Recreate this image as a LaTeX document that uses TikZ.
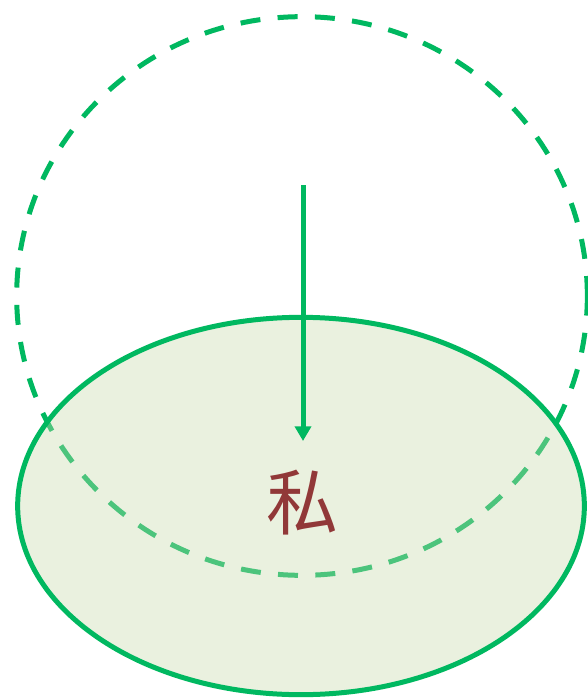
\documentclass[tikz,border=0pt]{standalone}
\usepackage{fontspec}
\usepackage{xcolor}
\usepackage{tikz}
\usetikzlibrary{shapes.geometric, arrows.meta, positioning}
\newfontfamily\cjkfonte{Noto Sans CJK SC}
\definecolor{meuverde}{RGB}{0, 184, 96}
\definecolor{meufundo}{RGB}{200, 218, 171}
\definecolor{meuvermelho}{RGB}{145, 56, 56}

\begin{document}
\begin{tikzpicture}[x=0.75pt, y=-0.75pt,
    esfera/.style={draw=meuverde, ellipse, line width=3.75pt, dash pattern=on 15pt off 13pt, minimum width=428pt, minimum height=419pt, inner sep=0pt},
    disco/.style={draw=meuverde, fill=meufundo, fill opacity=0.38, draw opacity=1, ellipse, line width=3.75pt, minimum width=425pt, minimum height=283pt, inner sep=0pt},
    rotulo/.style={text=meuvermelho, font=\cjkfonte\fontsize{54}{54}\selectfont, inner sep=0pt},
    seta/.style={draw=meuverde, line width=3.75pt, -{Triangle[width=12pt, length=11pt]}}
]
    \useasboundingbox (0,0) rectangle (588,699);

    % Shapes
    \node[esfera] (esf) at (302,296) {};
    \node[disco] (disc) at (301,506) {};
    \node[rotulo] (eu) at (302,503) {私};

    % Arrow
    \coordinate (topo) at (303,185);
    \coordinate (ponta) at (303,441);
    \draw[seta] (topo) -- (ponta);
\end{tikzpicture}
\end{document}
